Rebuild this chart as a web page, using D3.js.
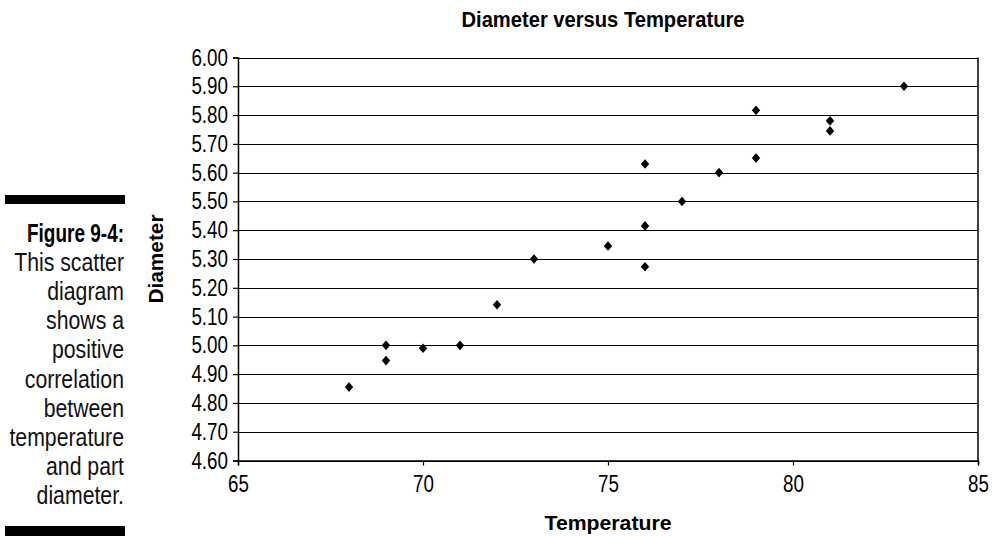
<!DOCTYPE html>
<html>
<head>
<meta charset="utf-8">
<script src="https://cdn.jsdelivr.net/npm/d3@7"></script>
<style>
  body { margin: 0; background: #fff; }
  svg { display: block; }
  text { font-family: 'Liberation Sans', Arial, sans-serif; }
  .tick-label { font-size: 23.5px; fill: #000; }
  .bold-label { font-weight: bold; fill: #000; }
  .side-text { font-size: 25px; fill: #111; }
</style>
</head>
<body>
<svg></svg>
<script>
// data
const temperature = [68, 69, 69, 70, 71, 72, 73, 75, 76, 76, 76, 77, 78, 79, 79, 81, 81, 83]
const diameter = [4.855, 5.00, 4.947, 4.99, 5.00, 5.141, 5.30, 5.345, 5.415, 5.273, 5.63, 5.50, 5.60, 5.817, 5.651, 5.78, 5.745, 5.90]
const xTicks = [65, 70, 75, 80, 85]
const yTicks = [4.6, 4.7, 4.8, 4.9, 5.0, 5.1, 5.2, 5.3, 5.4, 5.5, 5.6, 5.7, 5.8, 5.9, 6.0]
const caption = ['This scatter', 'diagram', 'shows a', 'positive', 'correlation', 'between', 'temperature', 'and part', 'diameter.']

const points = temperature.map((t, i) => ({ t, d: diameter[i] }))

const w = 992
const h = 536
const margin = { top: 57.5, right: 14, bottom: 75.5, left: 238 }

// no narrow font installed, so squeeze the glyphs horizontally
const narrow = (sel, factor) => {
  sel.each(function () {
    const len = this.getComputedTextLength()
    d3.select(this)
      .attr('textLength', len * factor)
      .attr('lengthAdjust', 'spacingAndGlyphs')
  })
}

const svg = d3.select('svg')
  .attr('width', w)
  .attr('height', h)

const xScale = d3.scaleLinear()
  .domain([65, 85])
  .range([margin.left, w - margin.right])

const yScale = d3.scaleLinear()
  .domain([4.6, 6.0])
  .range([h - margin.bottom, margin.top])

// horizontal gridlines
svg.append('g')
  .selectAll('line')
  .data(yTicks)
  .enter()
  .append('line')
  .attr('x1', margin.left)
  .attr('x2', w - margin.right)
  .attr('y1', d => Math.round(yScale(d)) + 0.5)
  .attr('y2', d => Math.round(yScale(d)) + 0.5)
  .attr('stroke', '#000')
  .attr('stroke-width', 1.2)

// right border
svg.append('line')
  .attr('x1', w - margin.right)
  .attr('x2', w - margin.right)
  .attr('y1', yScale(6.0))
  .attr('y2', yScale(4.6))
  .attr('stroke', '#000')
  .attr('stroke-width', 1.5)

// y axis
const yAxis = d3.axisLeft(yScale)
  .tickValues(yTicks)
  .tickSize(5)
  .tickPadding(5)
  .tickFormat(d3.format('.2f'))

const gy = svg.append('g')
  .attr('transform', `translate(${margin.left}, 0)`)
  .call(yAxis)
gy.attr('font-family', null).attr('font-size', null)
gy.select('.domain').attr('stroke', '#000').attr('stroke-width', 1.5)
gy.selectAll('.tick line').attr('stroke', '#000').attr('stroke-width', 1.2)
gy.selectAll('.tick text').attr('class', 'tick-label').call(narrow, 0.8)

// x axis
const xAxis = d3.axisBottom(xScale)
  .tickValues(xTicks)
  .tickSize(5)
  .tickPadding(10)

const gx = svg.append('g')
  .attr('transform', `translate(0, ${h - margin.bottom})`)
  .call(xAxis)
gx.attr('font-family', null).attr('font-size', null)
gx.select('.domain').attr('stroke', '#000').attr('stroke-width', 1.5)
gx.selectAll('.tick line').attr('stroke', '#000').attr('stroke-width', 1.2)
gx.selectAll('.tick text').attr('class', 'tick-label').call(narrow, 0.8)

// diamond markers
const diamond = {
  draw (ctx, size) {
    const rx = 4.2
    const ry = 4.8
    ctx.moveTo(0, -ry)
    ctx.lineTo(rx, 0)
    ctx.lineTo(0, ry)
    ctx.lineTo(-rx, 0)
    ctx.closePath()
  }
}

svg.selectAll('.point')
  .data(points)
  .enter()
  .append('path')
  .attr('class', 'point')
  .attr('d', d3.symbol().type(diamond))
  .attr('transform', d => `translate(${xScale(d.t)}, ${yScale(d.d)})`)
  .attr('fill', '#000')

// title and axis labels
const plotMid = (margin.left + w - margin.right) / 2

svg.append('text')
  .attr('class', 'bold-label')
  .attr('text-anchor', 'middle')
  .attr('x', 603)
  .attr('y', 27)
  .attr('font-size', 22)
  .attr('textLength', 283)
  .attr('lengthAdjust', 'spacingAndGlyphs')
  .text('Diameter versus Temperature')

svg.append('text')
  .attr('class', 'bold-label')
  .attr('text-anchor', 'middle')
  .attr('x', plotMid)
  .attr('y', 529.5)
  .attr('font-size', 21)
  .attr('textLength', 127)
  .attr('lengthAdjust', 'spacingAndGlyphs')
  .text('Temperature')

svg.append('text')
  .attr('class', 'bold-label')
  .attr('text-anchor', 'middle')
  .attr('transform', `translate(163, ${(yScale(6.0) + yScale(4.6)) / 2}) rotate(-90)`)
  .attr('font-size', 21)
  .attr('textLength', 89)
  .attr('lengthAdjust', 'spacingAndGlyphs')
  .text('Diameter')

// figure caption on the left
svg.append('rect')
  .attr('x', 5)
  .attr('y', 195)
  .attr('width', 120)
  .attr('height', 9)
  .attr('fill', '#000')

svg.append('rect')
  .attr('x', 5)
  .attr('y', 526)
  .attr('width', 120)
  .attr('height', 10)
  .attr('fill', '#000')

svg.append('text')
  .attr('class', 'side-text')
  .attr('text-anchor', 'end')
  .attr('x', 124)
  .attr('y', 241.5)
  .attr('font-weight', 'bold')
  .attr('font-size', 24)
  .style('fill', '#000')
  .attr('textLength', 97)
  .attr('lengthAdjust', 'spacingAndGlyphs')
  .text('Figure 9-4:')

svg.append('g')
  .selectAll('text')
  .data(caption)
  .enter()
  .append('text')
  .attr('class', 'side-text')
  .attr('text-anchor', 'end')
  .attr('x', 124)
  .attr('y', (d, i) => 270.7 + i * 29.2)
  .text(d => d)
  .call(narrow, 0.85)
</script>
</body>
</html>
